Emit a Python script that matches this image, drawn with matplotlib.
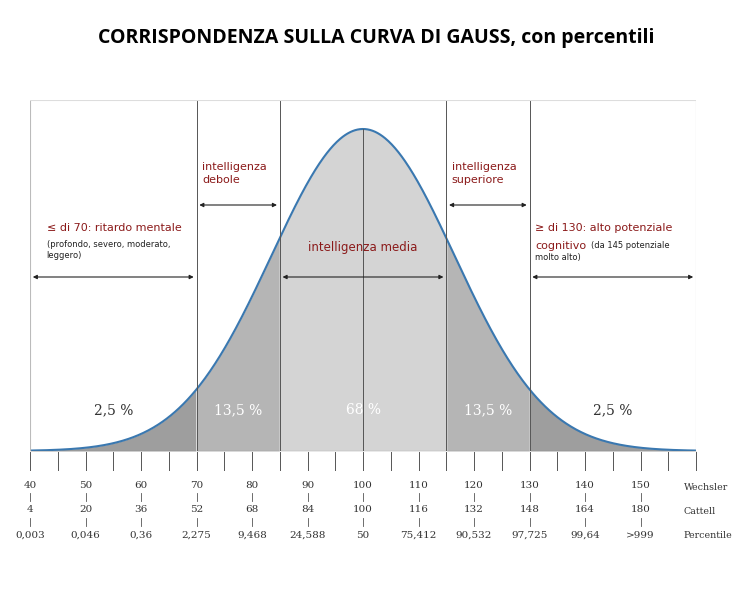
import numpy as np
import matplotlib.pyplot as plt

wechsler = [40, 50, 60, 70, 80, 90, 100, 110, 120, 130, 140, 150]
cattell = ["4", "20", "36", "52", "68", "84", "100", "116", "132", "148", "164", "180"]
percentile = ["0,003", "0,046", "0,36", "2,275", "9,468", "24,588", "50", "75,412", "90,532", "97,725", "99,64", ">999"]
bounds = [70, 85, 115, 130]
pct_labels = [(55, "2,5 %", "#333333"), (77.5, "13,5 %", "white"), (100, "68 %", "white"),
              (122.5, "13,5 %", "white"), (145, "2,5 %", "#333333")]
mu, sigma_drawn = 100, 16.5

W, H = 752, 595
fig = plt.figure(figsize=(W/100, H/100), dpi=100)
x0, x1, ytop, ybase = 30, 696, 100, 451
ax = fig.add_axes([x0/W, 1-ybase/H, (x1-x0)/W, (ybase-ytop)/H])
peak = 1.0
ymax = peak*(ybase-ytop)/(ybase-129)
ax.set_xlim(40, 160); ax.set_ylim(0, ymax)
ax.axis('off')
fy = lambda py: 1-py/H
xs = np.linspace(40, 160, 800)
ys = np.exp(-0.5*((xs-mu)/sigma_drawn)**2)
def fill(a, b, c):
    m = (xs >= a) & (xs <= b)
    ax.fill_between(xs[m], 0, ys[m], color=c, lw=0)
fill(40, 70, "#9e9e9e"); fill(130, 160, "#9e9e9e")
fill(70, 85, "#b5b5b5"); fill(115, 130, "#b5b5b5")
fill(85, 115, "#d4d4d4")
ax.plot(xs, ys, color="#3a78b0", lw=1.5)
ax.plot([40, 160], [0, 0], color="#666666", lw=0.8)
for b in bounds:
    ax.plot([b, b], [0, ymax], color="#555555", lw=0.7)
ax.plot([100, 100], [0, peak], color="#555555", lw=0.7)
ax.plot([40, 40], [0, ymax], color="#bbbbbb", lw=0.8)
ax.plot([160, 160], [0, ymax], color="#bbbbbb", lw=0.8)
ax.plot([40, 160], [ymax, ymax], color="#dddddd", lw=0.8)

def yd(py):
    return (ybase-py)/(ybase-ytop)*ymax
def arrow(a, b, py):
    ax.annotate("", xy=(a, yd(py)), xytext=(b, yd(py)),
                arrowprops=dict(arrowstyle="<|-|>", color="#222222", lw=0.8, mutation_scale=6))
arrow(40, 70, 277); arrow(70, 85, 205); arrow(85, 115, 277); arrow(115, 130, 205); arrow(130, 160, 277)

red = "#8b1a1a"
ax.text(71, yd(185), "intelligenza\ndebole", color=red, fontsize=8, va="bottom", linespacing=1.4)
ax.text(116, yd(185), "intelligenza\nsuperiore", color=red, fontsize=8, va="bottom", linespacing=1.4)
ax.text(100, yd(248), "intelligenza media", color=red, fontsize=8.5, ha="center", va="center")
ax.text(43, yd(228), "≤ di 70: ritardo mentale", color=red, fontsize=8, va="center")
ax.text(43, yd(250), "(profondo, severo, moderato,\nleggero)", color="#222222", fontsize=6, va="center", linespacing=1.3)
ax.text(131, yd(228), "≥ di 130: alto potenziale", color=red, fontsize=8, va="center")
ax.text(131, yd(246), "cognitivo", color=red, fontsize=8, va="center")
ax.text(141, yd(246), "(da 145 potenziale", color="#222222", fontsize=6, va="center")
ax.text(131, yd(258), "molto alto)", color="#222222", fontsize=6, va="center")
for xv, s, c in pct_labels:
    ax.text(xv, yd(410), s, color=c, fontsize=10, ha="center", va="center", family="DejaVu Serif")

for t in range(40, 161, 5):
    ax.plot([t, t], [yd(452), yd(470)], color="#555555", lw=0.7, clip_on=False)
for i, w in enumerate(wechsler):
    for py, s in [(485, str(w)), (510, cattell[i]), (535, percentile[i])]:
        ax.text(w, yd(py), s, fontsize=7.5, ha="center", va="center", family="DejaVu Serif", color="#333333")
    for py in (497, 522):
        ax.plot([w, w], [yd(py-4), yd(py+4)], color="#555555", lw=0.6, clip_on=False)
for py, s in [(487, "Wechsler"), (511, "Cattell"), (536, "Percentile")]:
    fig.text(684/W, fy(py), s, fontsize=6.8, family="DejaVu Serif", va="center", color="#333333")

fig.text(0.5, fy(38), "CORRISPONDENZA SULLA CURVA DI GAUSS, con percentili",
         ha="center", va="center", fontsize=14, fontweight="bold", family="Open Sans")
fig.savefig("out.png", dpi=100)
